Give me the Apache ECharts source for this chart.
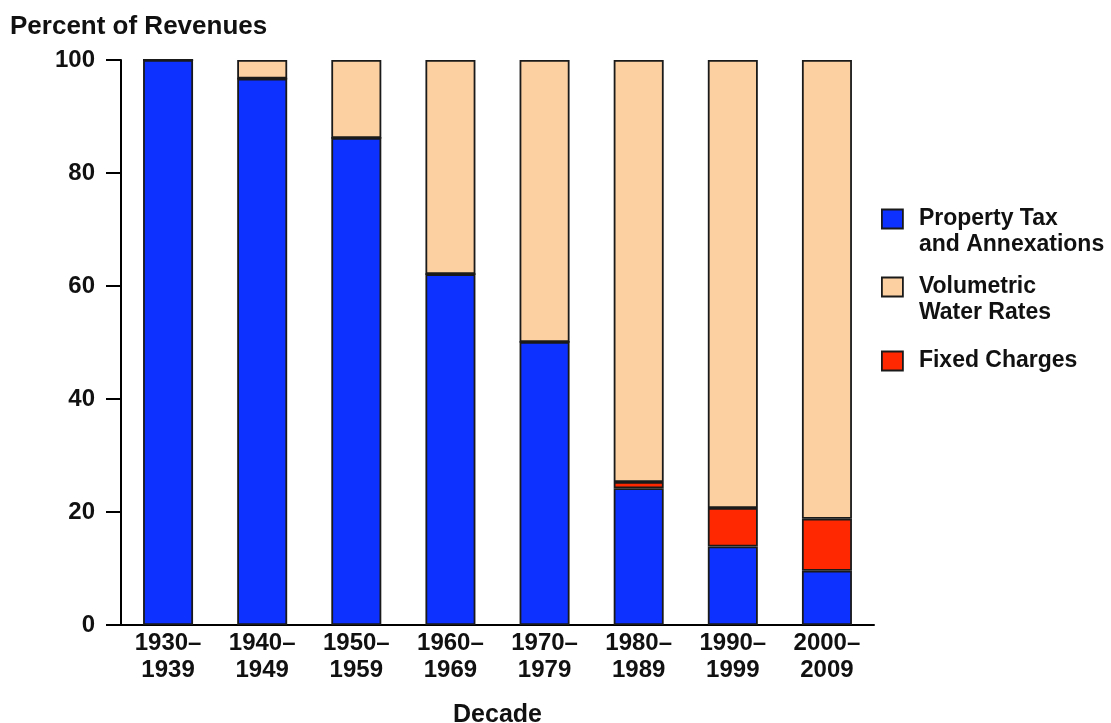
<!DOCTYPE html>
<html><head><meta charset="utf-8">
<script src="https://cdn.jsdelivr.net/npm/echarts@6/dist/echarts.min.js"></script>
<style>html,body{margin:0;padding:0;background:#fff}#c{width:1111px;height:723px}</style>
</head><body><div id="c"></div>
<script>
const decades = ['1930–\n1939','1940–\n1949','1950–\n1959','1960–\n1969','1970–\n1979','1980–\n1989','1990–\n1999','2000–\n2009'];
const propertyTax = [100, 96.7, 86.2, 62.1, 50.1, 24.2, 13.9, 9.6];
const fixedCharges = [0, 0, 0, 0, 0, 1.1, 6.8, 9.2];
const volumetric = [0, 3.3, 13.8, 37.9, 49.9, 74.7, 79.3, 81.2];
const yTicks = [0, 20, 40, 60, 80, 100];

const F = "'Liberation Sans', Arial, Helvetica, sans-serif";
const names = ['Property Tax\nand Annexations', 'Volumetric\nWater Rates', 'Fixed Charges'];
const colors = ['#0d31ff', '#fdd0a2', '#ff2800'];
const border = {borderColor: '#1a1a1a', borderWidth: 1.8};

const chart = echarts.init(document.getElementById('c'), null, {renderer: 'canvas'});
const txt = {fontFamily: F, fontWeight: 'bold', fontSize: 23, color: '#111', lineHeight: 26};
function legendFor(name, top, twoLine) {
  return {
    data: [name], left: 881, top: top, orient: 'vertical', padding: 0,
    icon: 'rect', itemWidth: 21, itemHeight: 19, itemGap: 0, selectedMode: false,
    formatter: n => {
      const lines = n.split('\n').map(l => '{t|' + l + '}');
      return (twoLine ? '{s| }\n' : '') + lines.join('\n');
    },
    textStyle: Object.assign({}, txt, {rich: {
      t: Object.assign({}, txt, {padding: [0, 0, 0, 11]}),
      s: Object.assign({}, txt)
    }}),
    itemStyle: border
  };
}
chart.setOption({
  animation: false,
  title: {text: 'Percent of Revenues', left: 5, top: 9,
    textStyle: {fontFamily: F, fontWeight: 'bold', fontSize: 26, color: '#111'}},
  grid: {left: 121, right: 237, top: 60, bottom: 98, containLabel: false, outerBoundsMode: 'none'},
  legend: [legendFor(names[0], 180, true), legendFor(names[1], 248, true), legendFor(names[2], 348, false)],
  xAxis: {
    type: 'category', data: decades, boundaryGap: true,
    name: 'Decade', nameLocation: 'middle', nameGap: 78,
    nameTextStyle: {fontFamily: F, fontWeight: 'bold', fontSize: 25, color: '#111'},
    axisLine: {lineStyle: {color: '#000', width: 2}},
    axisTick: {length: 12, lineStyle: {color: '#000', width: 2}},
    axisLabel: {fontFamily: F, fontWeight: 'bold', fontSize: 24, color: '#111', lineHeight: 27, margin: 5}
  },
  yAxis: {
    type: 'value', min: 0, max: 100, interval: 20,
    axisLine: {show: true, lineStyle: {color: '#000', width: 2}},
    axisTick: {show: true, length: 15, lineStyle: {color: '#000', width: 2}},
    splitLine: {show: false},
    axisLabel: {fontFamily: F, fontWeight: 'bold', fontSize: 24, color: '#111', margin: 26,
      formatter: v => yTicks.includes(v) ? String(v) : ''}
  },
  series: [
    {name: names[0], type: 'bar', stack: 's', data: propertyTax, barWidth: 50, itemStyle: Object.assign({color: colors[0]}, border)},
    {name: names[2], type: 'bar', stack: 's', data: fixedCharges, barWidth: 50, itemStyle: Object.assign({color: colors[2]}, border)},
    {name: names[1], type: 'bar', stack: 's', data: volumetric, barWidth: 50, itemStyle: Object.assign({color: colors[1]}, border)}
  ]
});
</script></body></html>
